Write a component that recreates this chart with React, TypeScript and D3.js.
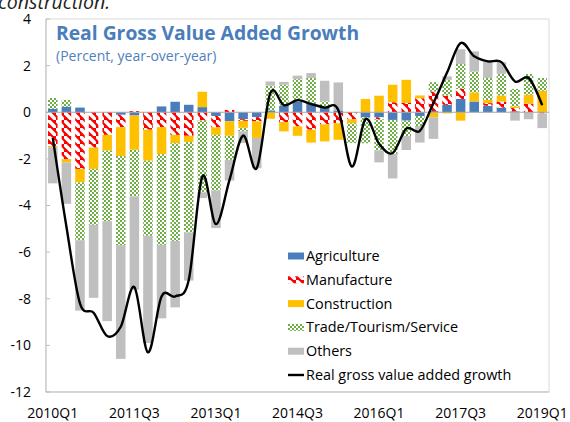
import React from 'react';
import * as d3 from 'd3';

const quarters = [
  "2010Q1","2010Q2","2010Q3","2010Q4","2011Q1","2011Q2","2011Q3","2011Q4",
  "2012Q1","2012Q2","2012Q3","2012Q4","2013Q1","2013Q2","2013Q3","2013Q4",
  "2014Q1","2014Q2","2014Q3","2014Q4","2015Q1","2015Q2","2015Q3","2015Q4",
  "2016Q1","2016Q2","2016Q3","2016Q4","2017Q1","2017Q2","2017Q3","2017Q4",
  "2018Q1","2018Q2","2018Q3","2018Q4","2019Q1"
];
const tickLabels = ["2010Q1","2011Q3","2013Q1","2014Q3","2016Q1","2017Q3","2019Q1"];
const yTicks = [4, 2, 0, -2, -4, -6, -8, -10, -12];

const agriculture = [0.15,0.24,0.2,0,0,-0.11,-0.14,0,0.25,0.45,0.32,0.22,-0.16,-0.39,-0.3,-0.21,0.08,0.28,0.46,0.39,0.22,0.08,0,-0.22,-0.22,-0.33,-0.36,-0.16,0.05,0.32,0.57,0.46,0.28,0.2,0.04,0,0];
const manufacture = [-1.45,-2.01,-2.43,-1.52,-0.97,-0.53,0.05,-0.75,-0.64,-0.97,-1.01,-0.35,-0.49,0.1,-0.07,-0.18,0,-0.42,-0.61,-0.75,-0.52,-0.47,-0.3,0,-0.08,0.43,0.4,0.6,0.84,0.39,0.43,0,0.11,0.26,0.14,0.37,-0.05];
const construction = [-0.05,-0.14,-0.58,-0.91,-0.68,-1.24,-1.47,-1.33,-1.16,-0.36,-0.27,0.66,-0.32,-0.62,-0.3,-0.71,-0.28,-0.4,-0.4,-0.55,-0.73,-0.71,-0.17,0.57,0.71,0.75,0.99,0.12,-0.22,-0.05,-0.36,0.39,0.14,0.26,0.07,0.38,0.92];
const trade = [0.46,0.29,-2.48,-2.4,-3.02,-3.82,-2.0,-3.22,-3.89,-4.19,-3.88,-3.09,-2.39,-1.03,-0.15,0,1.06,0.9,0.96,1.08,0.25,0,-0.85,-1.11,-1.34,-1.46,-0.66,-0.43,0.4,0.68,1.07,0.9,0.94,0.93,0.75,0.89,0.55];
const others = [-1.55,-1.78,-3.02,-3.13,-4.29,-4.88,-4.0,-4.6,-3.15,-2.85,-2.06,-0.24,-1.61,-0.89,-0.5,-1.3,0.18,0.12,0.15,0.21,0.88,1.2,0,0,-0.51,-1.05,-0.6,-0.71,-0.92,0.15,0.63,0.86,0.68,0.5,-0.36,-0.3,-0.63];
const growth = [-1.1,-4.9,-8.2,-8.6,-9.6,-9.2,-7.5,-10.3,-7.9,-7.9,-7.2,-2.75,-4.8,-2.9,-1.0,-2.4,0.82,0.3,0.52,0.35,0.2,0.1,-2.33,-0.3,-1.35,-1.75,-0.7,-0.8,0.4,1.7,2.97,2.4,2.18,2.15,1.32,1.47,0.3];

const seriesKeys = ["Agriculture", "Manufacture", "Construction", "Trade/Tourism/Service", "Others"];
const seriesValues = [agriculture, manufacture, construction, trade, others];
const lineLabel = "Real gross value added growth";

const FONT = "'Open Sans', 'Noto Sans', sans-serif";

export default function App() {
  const W = 570, H = 422;
  const left = 46, right = 549, top = 19, bottom = 392;

  const x = d3.scaleBand<number>()
    .domain(quarters.map((_, i) => i))
    .range([left, right])
    .paddingInner(0.3)
    .paddingOuter(0.15);
  const y = d3.scaleLinear().domain([-12, 4]).range([bottom, top]);

  const rows = quarters.map((q, i) => {
    const r: any = { q };
    seriesKeys.forEach((k, j) => { r[k] = seriesValues[j][i]; });
    return r;
  });
  const stacked = d3.stack<any>().keys(seriesKeys).offset(d3.stackOffsetDiverging)(rows);

  const fills = ["#4A7EBB", "url(#manuPat)", "#FFC000", "url(#tradePat)", "#BFBFBF"];

  const line = d3.line<number>()
    .x((_, i) => (x(i) as number) + x.bandwidth() / 2)
    .y(d => y(d))
    .curve(d3.curveCardinal.tension(0));

  const legendX = 288;
  const legendY0 = 256;
  const legendStep = 23.8;

  return (
    <div>
      <style>{`body{margin:0;overflow:hidden;}`}</style>
      <svg width={W} height={H} style={{ display: 'block', background: '#fff' }}>
        <defs>
          <pattern id="manuPat" patternUnits="userSpaceOnUse" width={8} height={8}>
            <rect width={8} height={8} fill="#FF0000" />
            <path d="M0,0 L2.5,0 L8,5.5 L8,8 L5.5,8 L0,2.5 Z" fill="#fff" />
          </pattern>
          <pattern id="tradePat" patternUnits="userSpaceOnUse" width={4} height={4}>
            <rect width={4} height={4} fill="#fff" />
            <rect x={0} y={0} width={2} height={2} fill="#70AD47" />
            <rect x={2} y={2} width={2} height={2} fill="#70AD47" />
          </pattern>
        </defs>

        <text x={-2} y={9} fontFamily={FONT} fontStyle="italic" fontSize={19.5} fill="#222">construction.</text>

        {/* plot frame */}
        <rect x={left} y={top} width={right - left} height={bottom - top} fill="none" stroke="#D9D9D9" strokeWidth={1} />
        <line x1={left} x2={left} y1={top} y2={bottom} stroke="#BFBFBF" strokeWidth={1} />
        <line x1={left} x2={right} y1={bottom} y2={bottom} stroke="#BFBFBF" strokeWidth={1} />

        {/* y ticks */}
        {yTicks.map(t => (
          <g key={t}>
            <line x1={left} x2={left + 4} y1={y(t)} y2={y(t)} stroke="#BFBFBF" />
            <text x={31} y={y(t)} dy="0.35em" textAnchor="end" fontFamily={FONT} fontSize={14} fill="#000">{t}</text>
          </g>
        ))}

        {/* bars */}
        {stacked.map((s, si) => (
          <g key={s.key} fill={fills[si]}>
            {s.map((d, i) => {
              const y0 = y(d[0]), y1 = y(d[1]);
              const h = Math.abs(y0 - y1);
              if (h < 0.01) return null;
              return <rect key={i} x={x(i)} y={Math.min(y0, y1)} width={x.bandwidth()} height={h} />;
            })}
          </g>
        ))}

        {/* zero line */}
        <line x1={left} x2={right} y1={y(0)} y2={y(0)} stroke="#A6A6A6" strokeWidth={1} />

        {/* growth line */}
        <path d={line(growth) || ''} fill="none" stroke="#000" strokeWidth={2.4} />

        {/* x labels */}
        {tickLabels.map(lbl => {
          const i = quarters.indexOf(lbl);
          return (
            <text key={lbl} x={(x(i) as number) + x.bandwidth() / 2} y={418} textAnchor="middle" fontFamily={FONT} fontSize={14} fill="#000">{lbl}</text>
          );
        })}

        {/* title */}
        <text x={56} y={40} fontFamily={FONT} fontWeight="bold" fontSize={19.3} fill="#4A7EBB">Real Gross Value Added Growth</text>
        <text x={56} y={61} fontFamily={FONT} fontSize={14} fill="#4F81BD">(Percent, year-over-year)</text>

        {/* legend */}
        {seriesKeys.map((k, i) => {
          const cy = legendY0 + i * legendStep;
          return (
            <g key={k}>
              <rect x={legendX} y={cy - 3.5} width={16} height={7} fill={fills[i]} />
              <text x={legendX + 18} y={cy} dy="0.35em" fontFamily={FONT} fontSize={14.4} fill="#000">{k}</text>
            </g>
          );
        })}
        <line x1={legendX} x2={legendX + 16} y1={legendY0 + 5 * legendStep} y2={legendY0 + 5 * legendStep} stroke="#000" strokeWidth={2.4} />
        <text x={legendX + 18} y={legendY0 + 5 * legendStep} dy="0.35em" fontFamily={FONT} fontSize={14.4} fill="#000">{lineLabel}</text>
      </svg>
    </div>
  );
}
